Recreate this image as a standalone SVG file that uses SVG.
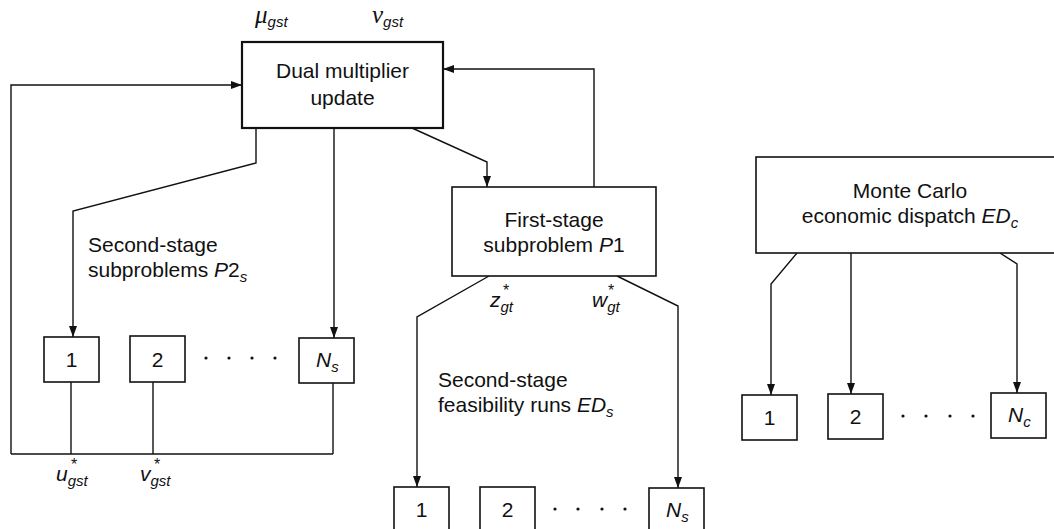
<svg xmlns="http://www.w3.org/2000/svg" width="1054" height="529" viewBox="0 0 1054 529">
<defs>
<style>
text{font-family:"Liberation Sans",Arial,Helvetica,sans-serif;font-size:21px;fill:#111}
.c{text-anchor:middle}
.i{font-style:italic}
.sub{font-size:15px;font-style:italic}
.greek{font-family:"Liberation Serif","Times New Roman",serif;font-style:italic;font-size:25px}
.star{font-size:16px;text-anchor:middle}
.box{fill:#fff;stroke:#111;stroke-width:1.6}
.main{fill:#fff;stroke:#111;stroke-width:2.2}
.ln{fill:none;stroke:#111;stroke-width:1.4}
.arr{fill:none;stroke:#111;stroke-width:1.4;marker-end:url(#ah)}
.dot{fill:#111}
</style>
<marker id="ah" viewBox="0 0 11 8" refX="11" refY="4" markerWidth="11" markerHeight="8" markerUnits="userSpaceOnUse" orient="auto">
<path d="M0,0 L11,4 L0,8 Z" fill="#111"/>
</marker>
</defs>
<rect width="1054" height="529" fill="#fff"/>

<g id="connectors">
<polyline class="ln" points="71,382 71,454"/>
<polyline class="ln" points="153,382 153,454"/>
<polyline class="ln" points="333,383 333,454"/>
<polyline class="ln" points="11,454 333,454"/>
<polyline class="arr" points="11,454 11,85 242,85"/>
<polyline class="arr" points="256,128 256,163 73,211 73,337"/>
<polyline class="arr" points="334,128 334,338"/>
<polyline class="arr" points="412,128 487,162 487,187"/>
<polyline class="arr" points="594,187 594,69 443,69"/>
<polyline class="arr" points="489,276 417,317 417,487"/>
<polyline class="arr" points="617,276 678,306 678,488"/>
<polyline class="arr" points="797,253 771,284 771,395"/>
<polyline class="arr" points="851,253 851,394"/>
<polyline class="arr" points="1000,253 1017,264 1017,393"/>
</g>

<g id="dual">
<rect class="main" x="242" y="42" width="201" height="86"/>
<text class="c" x="342.5" y="78">Dual multiplier</text>
<text class="c" x="342.5" y="105">update</text>
</g>

<g id="first-stage">
<rect class="box" x="452" y="187" width="204" height="89"/>
<text class="c" x="554" y="227">First-stage</text>
<text class="c" x="554" y="252">subproblem <tspan class="i">P</tspan>1</text>
</g>

<g id="monte-carlo">
<rect class="box" x="756" y="157" width="308" height="96"/>
<text class="c" x="910" y="198">Monte Carlo</text>
<text class="c" x="910" y="223">economic dispatch <tspan class="i">ED</tspan><tspan class="sub" dy="5">c</tspan></text>
</g>

<g id="sub-1">
<rect class="box" x="44" y="337" width="55" height="45"/>
<text class="c" x="71.5" y="367">1</text>
</g>
<g id="sub-2">
<rect class="box" x="130" y="336" width="55" height="46"/>
<text class="c" x="157.5" y="367">2</text>
</g>
<g id="sub-dots">
<circle class="dot" cx="206" cy="358" r="1.6"/>
<circle class="dot" cx="229" cy="358" r="1.6"/>
<circle class="dot" cx="252" cy="358" r="1.6"/>
<circle class="dot" cx="275" cy="358" r="1.6"/>
</g>
<g id="sub-Ns">
<rect class="box" x="299" y="338" width="55" height="45"/>
<text x="316" y="367"><tspan class="i">N</tspan><tspan class="sub" dy="5">s</tspan></text>
</g>

<g id="feas-1">
<rect class="box" x="394" y="487" width="55" height="46"/>
<text class="c" x="421.5" y="517">1</text>
</g>
<g id="feas-2">
<rect class="box" x="480" y="487" width="55" height="46"/>
<text class="c" x="507.5" y="517">2</text>
</g>
<g id="feas-dots">
<circle class="dot" cx="555" cy="509" r="1.6"/>
<circle class="dot" cx="578" cy="509" r="1.6"/>
<circle class="dot" cx="602" cy="509" r="1.6"/>
<circle class="dot" cx="625" cy="509" r="1.6"/>
</g>
<g id="feas-Ns">
<rect class="box" x="649" y="488" width="55" height="46"/>
<text x="666" y="517"><tspan class="i">N</tspan><tspan class="sub" dy="5">s</tspan></text>
</g>

<g id="mc-1">
<rect class="box" x="742" y="395" width="55" height="45"/>
<text class="c" x="769.5" y="425">1</text>
</g>
<g id="mc-2">
<rect class="box" x="828" y="394" width="55" height="45"/>
<text class="c" x="855.5" y="424">2</text>
</g>
<g id="mc-dots">
<circle class="dot" cx="903" cy="416" r="1.6"/>
<circle class="dot" cx="926" cy="416" r="1.6"/>
<circle class="dot" cx="950" cy="416" r="1.6"/>
<circle class="dot" cx="973" cy="416" r="1.6"/>
</g>
<g id="mc-Nc">
<rect class="box" x="991" y="393" width="55" height="45"/>
<text x="1008" y="422"><tspan class="i">N</tspan><tspan class="sub" dy="5">c</tspan></text>
</g>

<g id="labels">
<text x="88" y="252">Second-stage</text>
<text x="88" y="277">subproblems <tspan class="i">P</tspan>2<tspan class="sub" dy="5">s</tspan></text>
<text x="438" y="387">Second-stage</text>
<text x="438" y="412">feasibility runs <tspan class="i">ED</tspan><tspan class="sub" dy="5">s</tspan></text>

<text x="255" y="23"><tspan class="greek">μ</tspan><tspan class="sub" dy="4">gst</tspan></text>
<text x="372" y="23"><tspan class="greek">ν</tspan><tspan class="sub" dy="4">gst</tspan></text>

<text x="56" y="481"><tspan class="i">u</tspan><tspan class="sub" dy="5">gst</tspan></text>
<text class="star" x="74" y="470">*</text>
<text x="140" y="481"><tspan class="i">v</tspan><tspan class="sub" dy="5">gst</tspan></text>
<text class="star" x="157" y="470">*</text>

<text x="490" y="307"><tspan class="i">z</tspan><tspan class="sub" dy="5">gt</tspan></text>
<text class="star" x="506" y="296">*</text>
<text x="592" y="307"><tspan class="i">w</tspan><tspan class="sub" dy="5">gt</tspan></text>
<text class="star" x="611" y="296">*</text>
</g>
</svg>
